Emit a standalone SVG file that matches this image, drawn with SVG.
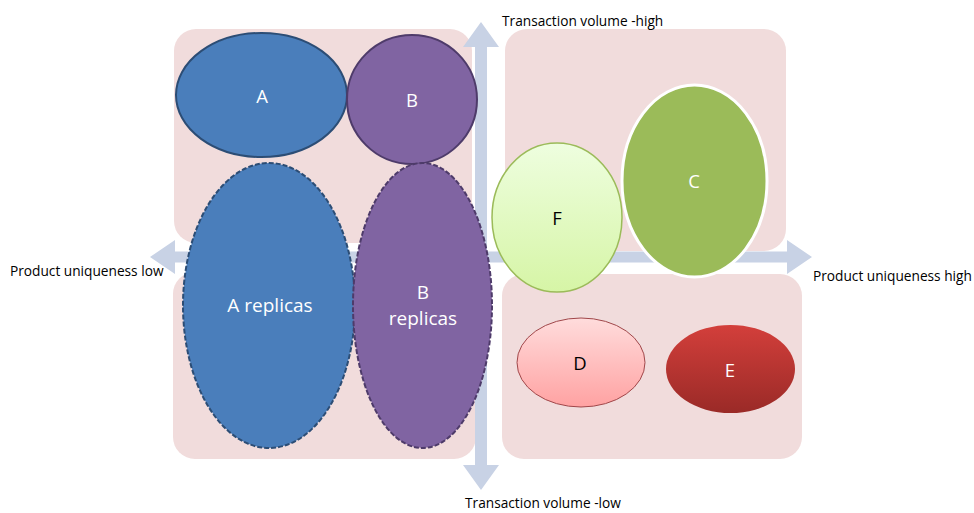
<svg xmlns="http://www.w3.org/2000/svg" width="974" height="513" viewBox="0 0 974 513">
<defs>
<linearGradient id="gF" x1="0" y1="0" x2="0" y2="1"><stop offset="0" stop-color="#eefedf"/><stop offset="1" stop-color="#d6f5a6"/></linearGradient>
<linearGradient id="gD" x1="0" y1="0" x2="0" y2="1"><stop offset="0" stop-color="#ffdcdc"/><stop offset="1" stop-color="#ffa2a2"/></linearGradient>
<linearGradient id="gE" x1="0" y1="0" x2="0" y2="1"><stop offset="0" stop-color="#d33f3b"/><stop offset="1" stop-color="#9a2a27"/></linearGradient>
</defs>
<style>
.box{fill:#f1dcdc}
.axis{fill:#c8d2e5}
.lbl{font-family:"Open Sans","Liberation Sans",sans-serif;font-size:13.7px;fill:#000}
.nl{font-family:"Open Sans","Liberation Sans",sans-serif;font-size:18.5px;text-anchor:middle}
.w{fill:#ffffff}
.k{fill:#000000}
</style>
<g id="quadrants">
<rect class="box" x="174" y="29" width="298" height="214" rx="22"/>
<rect class="box" x="173" y="272" width="303" height="187" rx="22"/>
<rect class="box" x="505" y="29" width="281" height="222" rx="22"/>
<rect class="box" x="502" y="274" width="300" height="185" rx="22"/>
</g>
<g id="connectors">
<polygon class="axis" points="481,22 499,47 487,47 487,465 499,465 481,490 463,465 475,465 475,47 463,47"/>
<polygon class="axis" points="150,257 175,240 175,251.5 787,251.5 787,240 812,257 787,274 787,262.5 175,262.5 175,274"/>
</g>
<g id="node-A">
<ellipse cx="261.5" cy="95" rx="85.5" ry="62" fill="#4a7ebb" stroke="#2c4d75" stroke-width="2"/>
<text class="nl w" x="262" y="103">A</text>
</g>
<g id="node-B">
<ellipse cx="412" cy="99.5" rx="65" ry="64.5" fill="#8064a2" stroke="#4e3b6a" stroke-width="2"/>
<text class="nl w" x="412" y="107">B</text>
</g>
<g id="node-A-replicas">
<ellipse cx="269" cy="305.5" rx="86" ry="142.5" fill="#4a7ebb" stroke="#2c4d75" stroke-width="2" stroke-dasharray="5,2"/>
<text class="nl w" x="270" y="312" style="font-size:19px">A replicas</text>
</g>
<g id="node-B-replicas">
<ellipse cx="422.5" cy="305.5" rx="69.5" ry="142.5" fill="#8064a2" stroke="#4e3b6a" stroke-width="2" stroke-dasharray="5,2"/>
<text class="nl w" x="423" y="299" style="font-size:19px">B</text>
<text class="nl w" x="423" y="325" style="font-size:19px">replicas</text>
</g>
<g id="node-F">
<ellipse cx="557" cy="217.5" rx="65" ry="74.5" fill="url(#gF)" stroke="#9bbb59" stroke-width="1.5"/>
<text class="nl k" x="557" y="225">F</text>
</g>
<g id="node-C">
<ellipse cx="694.5" cy="181" rx="72.5" ry="96" fill="#9bbb59" stroke="#ffffff" stroke-width="3"/>
<text class="nl w" x="694" y="188">C</text>
</g>
<g id="node-D">
<ellipse cx="581" cy="362.5" rx="64" ry="44.5" fill="url(#gD)" stroke="#a0474a" stroke-width="1"/>
<text class="nl k" x="580" y="370">D</text>
</g>
<g id="node-E">
<ellipse cx="730.5" cy="369" rx="64.5" ry="44" fill="url(#gE)"/>
<text class="nl w" x="730" y="377">E</text>
</g>
<g id="axis-labels">
<text class="lbl" x="502" y="26">Transaction volume -high</text>
<text class="lbl" x="465" y="508">Transaction volume -low</text>
<text class="lbl" x="10" y="276">Product uniqueness low</text>
<text class="lbl" x="813" y="281">Product uniqueness high</text>
</g>
</svg>
